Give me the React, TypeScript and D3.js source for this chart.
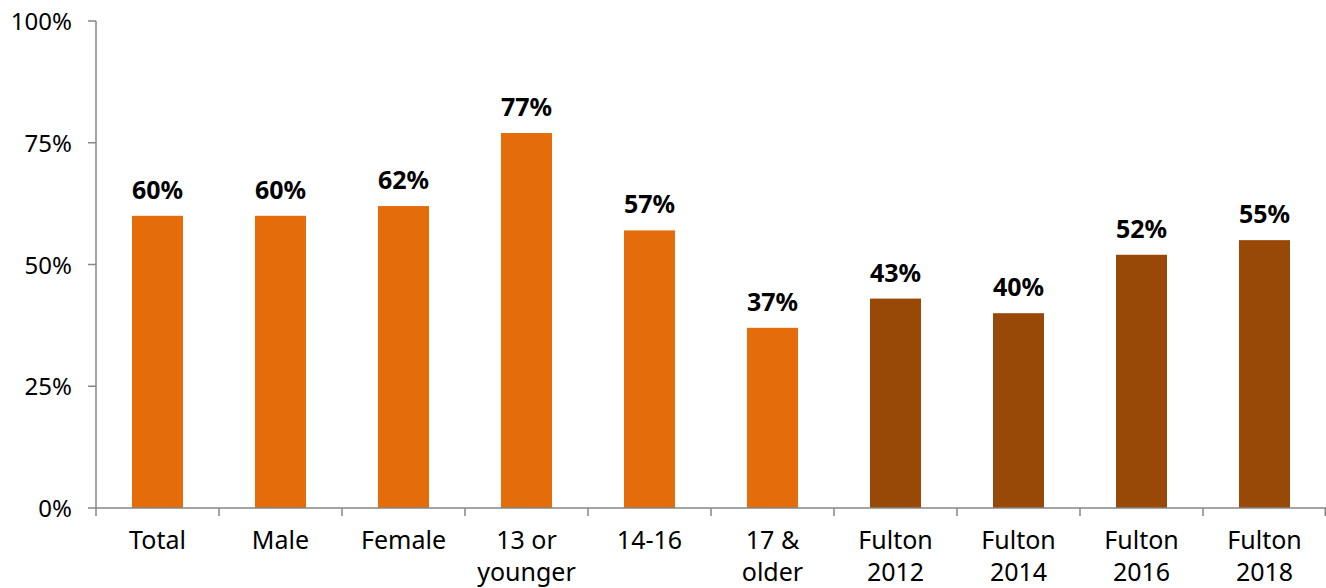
import React from "react";
import * as d3 from "d3";

const categories: string[][] = [
  ["Total"], ["Male"], ["Female"], ["13 or", "younger"], ["14-16"], ["17 &", "older"],
  ["Fulton", "2012"], ["Fulton", "2014"], ["Fulton", "2016"], ["Fulton", "2018"],
];
const values = [60, 60, 62, 77, 57, 37, 43, 40, 52, 55];
const groups = ["cur", "cur", "cur", "cur", "cur", "cur", "hist", "hist", "hist", "hist"];
const yTicks = [0, 25, 50, 75, 100];

const W = 1326, H = 588;
const left = 96, right = 1326, top = 21, bottom = 508;
const font = "'Noto Sans', 'Open Sans', sans-serif";

export default function App() {
  const keys = categories.map((_, i) => String(i));
  const x = d3.scaleBand<string>().domain(keys).range([left, right]).paddingInner(0).paddingOuter(0);
  const y = d3.scaleLinear().domain([0, 100]).range([bottom, top]);
  const barW = 51;
  const color = (g: string) => (g === "cur" ? "#E46C0A" : "#984807");
  return (
    <svg width={W} height={H} style={{ position: "absolute", left: 0, top: 0, fontFamily: font }}>
      {values.map((v, i) => {
        const cx = x(keys[i])! + x.bandwidth() / 2;
        return (
          <g key={i}>
            <rect x={cx - barW / 2} y={y(v)} width={barW} height={bottom - y(v)} fill={color(groups[i])} />
            <text x={cx} y={y(v) - 17} textAnchor="middle" fontWeight="bold" fontSize={25} fill="#000">
              {v}%
            </text>
            {categories[i].map((line, j) => (
              <text key={j} x={cx} y={549 + j * 32} textAnchor="middle" fontSize={25} fill="#000">
                {line}
              </text>
            ))}
          </g>
        );
      })}
      <line x1={left} x2={left} y1={top} y2={bottom} stroke="#868686" strokeWidth={1.5} />
      <line x1={left} x2={right} y1={bottom} y2={bottom} stroke="#868686" strokeWidth={1.5} />
      {yTicks.map((t) => (
        <g key={t}>
          <line x1={left - 8} x2={left} y1={y(t)} y2={y(t)} stroke="#868686" strokeWidth={1.5} />
          <text x={72} y={y(t) + 9} textAnchor="end" fontSize={24} fill="#000">{t}%</text>
        </g>
      ))}
      {keys.map((k) => (
        <line key={k} x1={x(k)!} x2={x(k)!} y1={bottom} y2={bottom + 8} stroke="#868686" strokeWidth={1.5} />
      ))}
      <line x1={right - 0.75} x2={right - 0.75} y1={bottom} y2={bottom + 8} stroke="#868686" strokeWidth={1.5} />
    </svg>
  );
}
